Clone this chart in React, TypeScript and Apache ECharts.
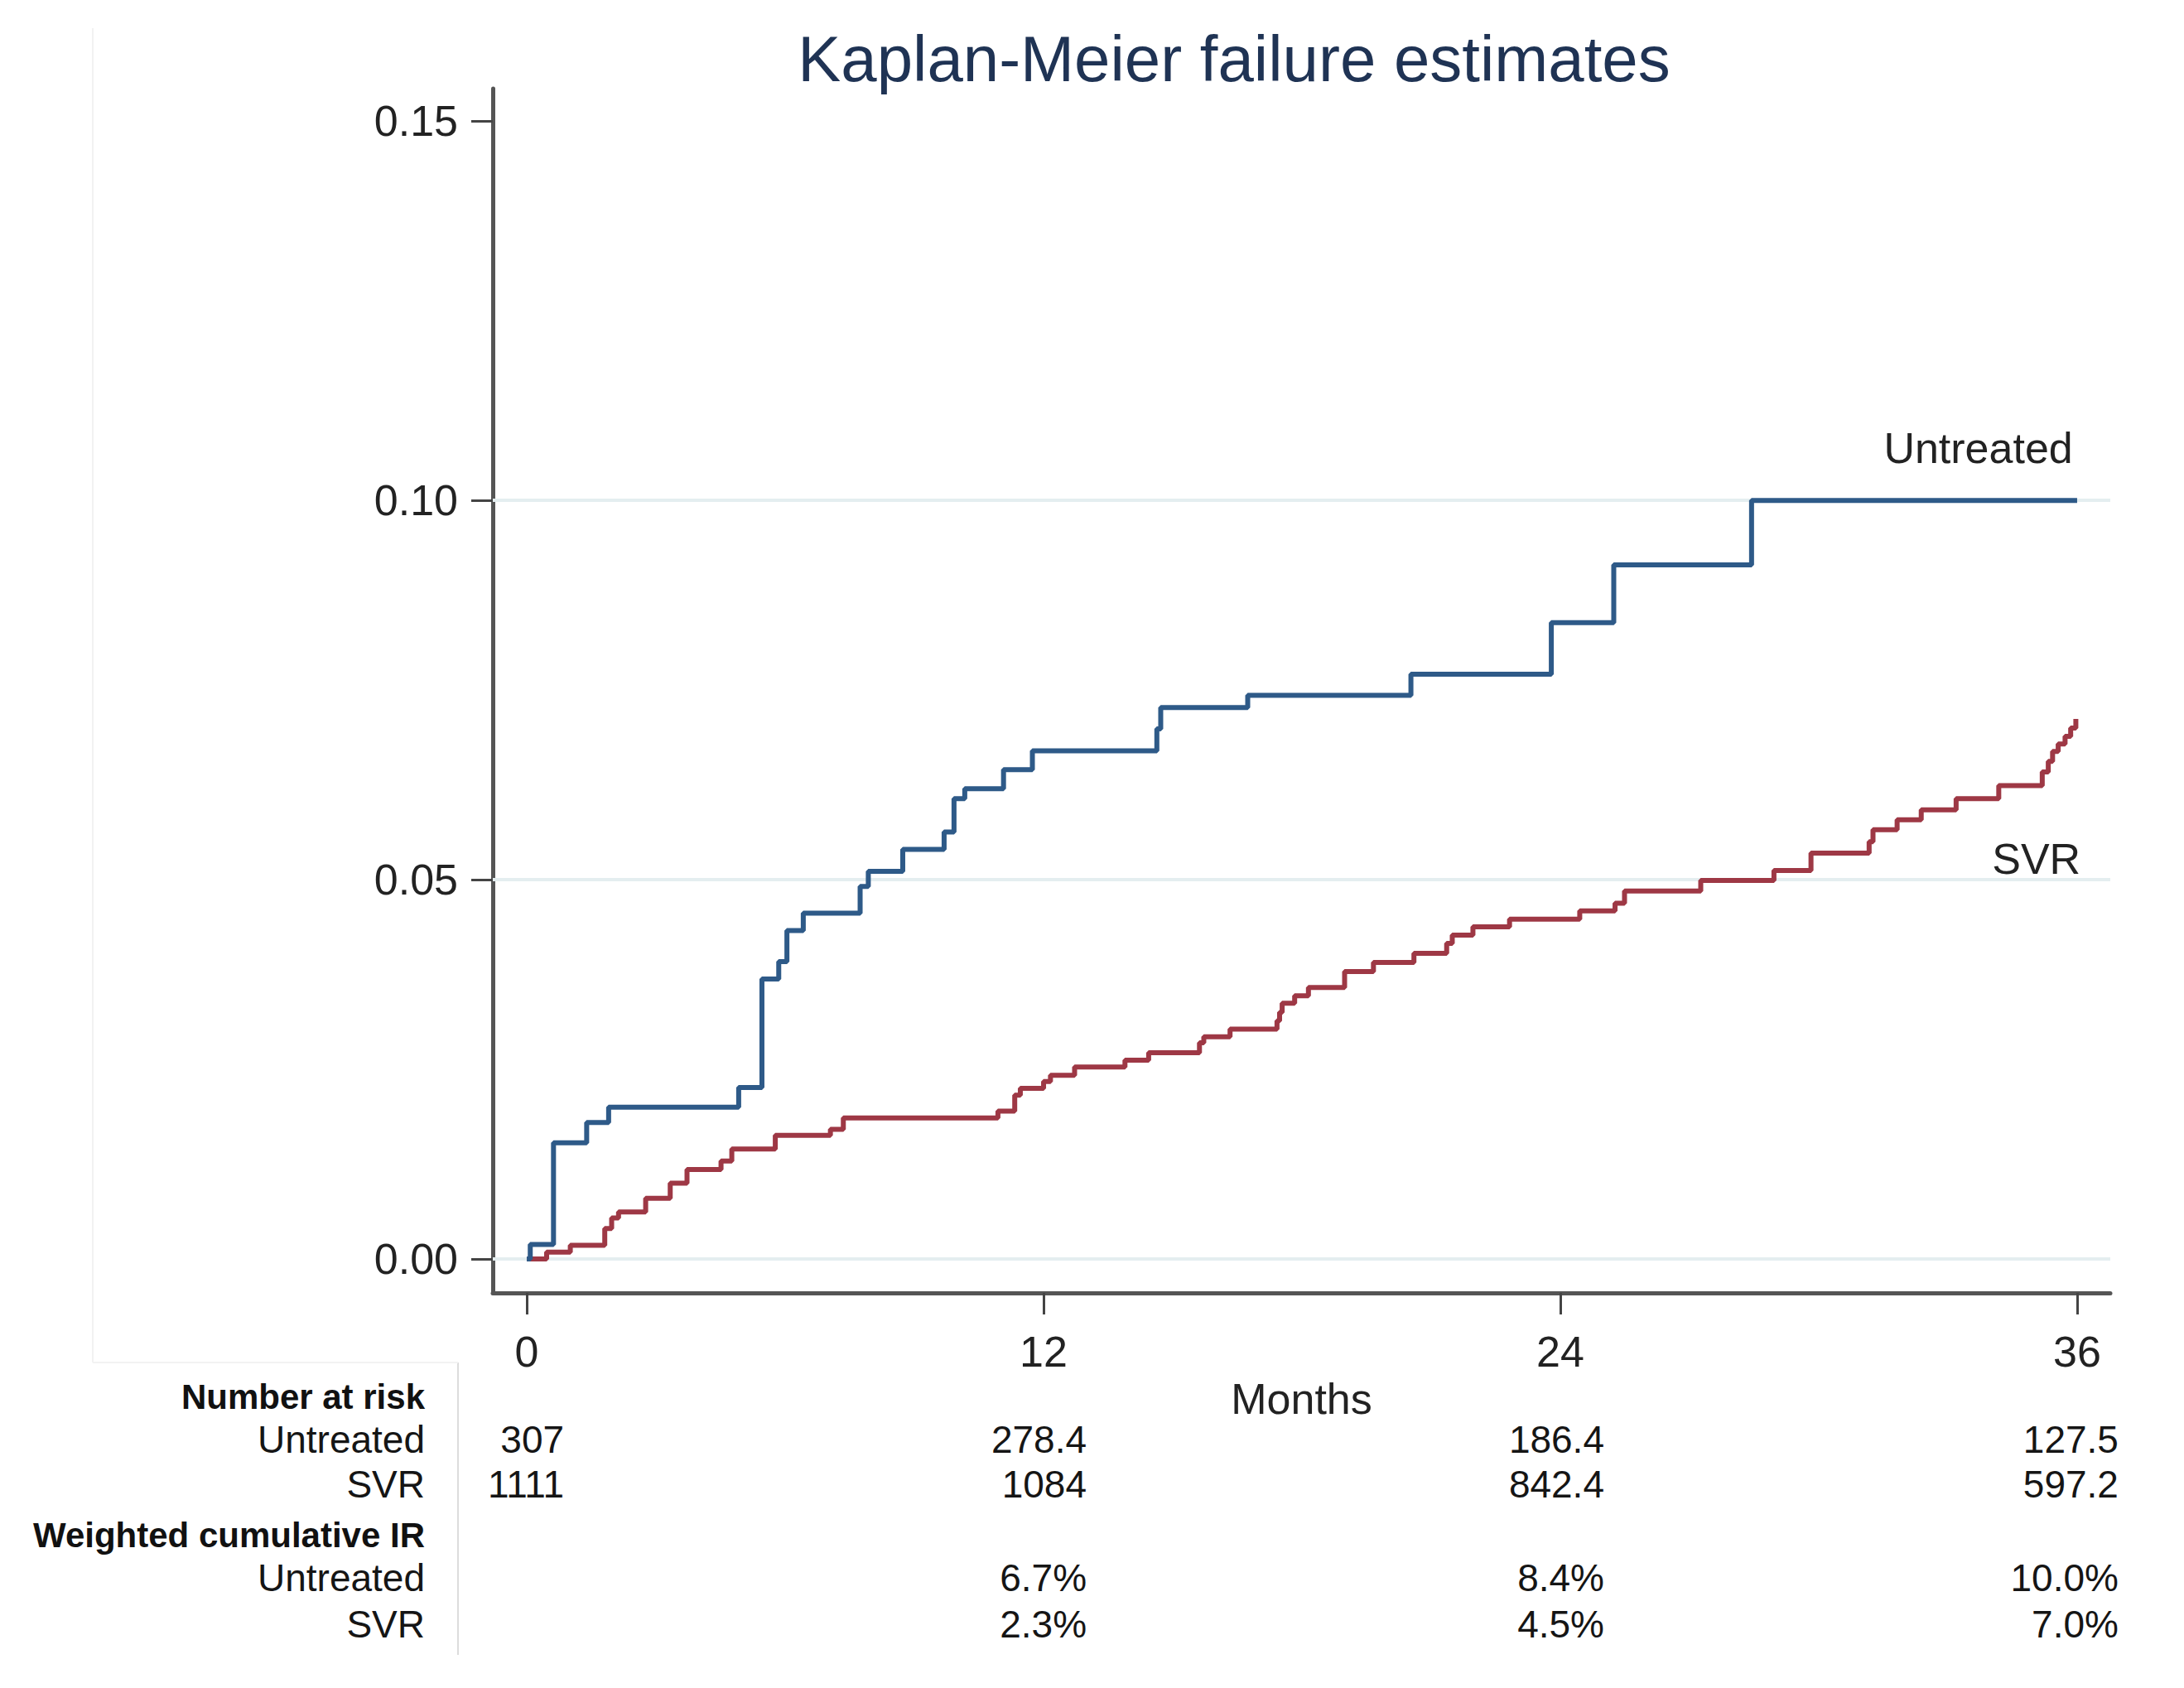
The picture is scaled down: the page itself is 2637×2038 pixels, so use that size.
import React, { useEffect, useRef } from "react";
import * as echarts from "echarts";

const W = 2637;
const H = 2038;
const FONT = "'Liberation Sans', Arial, Helvetica, sans-serif";

const titleText = "Kaplan-Meier failure estimates";
const xAxisName = "Months";
const xTicks = [0, 12, 24, 36];
const yTicks = [0, 0.05, 0.1, 0.15];
const gridValues = [0, 0.05, 0.1];

// Kaplan-Meier failure estimates (step points: time in months, cumulative failure)
const untreatedTimes = [0, 0.08, 0.62, 1.39, 1.9, 4.92, 5.46, 5.85, 6.04, 6.42, 7.74, 7.93, 8.73, 9.69, 9.92, 10.17, 11.07, 11.74, 14.63, 14.72, 16.74, 20.53, 23.79, 25.24, 28.44, 36];
const untreatedFail = [0, 0.0019, 0.0153, 0.018, 0.02, 0.0226, 0.0369, 0.0392, 0.0433, 0.0456, 0.0491, 0.0511, 0.054, 0.0563, 0.0607, 0.062, 0.0645, 0.067, 0.0699, 0.0727, 0.0743, 0.0771, 0.0839, 0.0915, 0.1, 0.1];

const svrTimes = [0, 0.46, 1.01, 1.81, 1.97, 2.13, 2.76, 3.33, 3.72, 4.51, 4.76, 5.77, 7.05, 7.35, 10.94, 11.33, 11.46, 12.0, 12.16, 12.72, 13.89, 14.44, 15.62, 15.72, 16.33, 17.42, 17.48, 17.54, 17.83, 18.15, 18.99, 19.66, 20.6, 21.36, 21.49, 21.97, 22.82, 24.45, 25.27, 25.49, 27.26, 28.96, 29.82, 31.17, 31.26, 31.82, 32.38, 33.19, 34.18, 35.19, 35.33, 35.43, 35.56, 35.72, 35.85, 35.97];
const svrFail = [0, 0.0009, 0.0018, 0.004, 0.0054, 0.0062, 0.008, 0.01, 0.0118, 0.0129, 0.0145, 0.0163, 0.0171, 0.0186, 0.0195, 0.0216, 0.0225, 0.0234, 0.0242, 0.0253, 0.0262, 0.0272, 0.0285, 0.0293, 0.0303, 0.0314, 0.0325, 0.0337, 0.0347, 0.0358, 0.0379, 0.0391, 0.0403, 0.0416, 0.0427, 0.0438, 0.0448, 0.0459, 0.0469, 0.0485, 0.0499, 0.0512, 0.0535, 0.055, 0.0566, 0.0579, 0.0592, 0.0607, 0.0624, 0.0642, 0.0656, 0.0669, 0.0679, 0.0689, 0.07, 0.0712];

// Risk table
const tableTimes = [0, 12, 24, 36];
const tableHeaderRisk = "Number at risk";
const tableHeaderIR = "Weighted cumulative IR";
const groupNames = ["Untreated", "SVR"];
const riskUntreated = ["307", "278.4", "186.4", "127.5"];
const riskSVR = ["1111", "1084", "842.4", "597.2"];
const irTimes = [12, 24, 36];
const irUntreated = ["6.7%", "8.4%", "10.0%"];
const irSVR = ["2.3%", "4.5%", "7.0%"];

// Styles
const BLUE = "#2e5a88";
const RED = "#9e3845";
const AXIS = "#555555";
const TEXT = "#222222";
const TITLE = "#1f3354";
const GRID = "#e4eef0";
const colOffsets = [45, 52, 53, 50];
const rowY = { riskHead: 1686, riskU: 1738, riskS: 1792, irHead: 1853, irU: 1905, irS: 1961 };
const labelRight = 513;

const zip = (a: number[], b: number[]) => a.map((t, i) => [t, b[i]]);

export default function App() {
  const ref = useRef<HTMLDivElement>(null);
  useEffect(() => {
    const chart = echarts.init(ref.current!, null, { renderer: "svg", width: W, height: H });
    chart.setOption({
      animation: false,
      backgroundColor: "#ffffff",
      grid: { left: 595, right: 89, top: 107, bottom: 477, containLabel: false },
      xAxis: {
        type: "value",
        min: -0.79,
        max: 36.77,
        name: xAxisName,
        nameLocation: "middle",
        nameGap: 82,
        nameTextStyle: { fontSize: 52, color: TEXT, fontFamily: FONT },
        axisLine: { show: true, onZero: false, lineStyle: { color: AXIS, width: 5 } },
        axisTick: { show: true, customValues: xTicks, length: 26, lineStyle: { color: "#444", width: 3 } },
        axisLabel: { show: true, customValues: xTicks, fontSize: 52, margin: 45, color: TEXT, fontFamily: FONT },
        splitLine: { show: false },
      },
      yAxis: {
        type: "value",
        min: -0.00448,
        max: 0.1543,
        axisLine: { show: true, onZero: false, lineStyle: { color: AXIS, width: 5 } },
        axisTick: { show: true, customValues: yTicks, length: 26, lineStyle: { color: "#444", width: 3 } },
        axisLabel: {
          show: true,
          customValues: yTicks,
          fontSize: 52,
          margin: 42,
          color: TEXT,
          fontFamily: FONT,
          formatter: (v: number) => v.toFixed(2),
        },
        splitLine: { show: false },
      },
      series: [
        {
          type: "line",
          name: "grid",
          data: [],
          z: 1,
          silent: true,
          markLine: {
            silent: true,
            z: 1,
            symbol: ["none", "none"],
            label: { show: false },
            lineStyle: { color: GRID, width: 4, type: "solid" },
            emphasis: { disabled: true },
            data: gridValues.map((v) => ({ yAxis: v })),
          },
        },
        {
          type: "line",
          name: "Untreated",
          step: "end",
          showSymbol: false,
          symbol: "none",
          z: 10,
          lineStyle: { color: BLUE, width: 6 },
          itemStyle: { color: BLUE },
          emphasis: { disabled: true },
          data: zip(untreatedTimes, untreatedFail),
        },
        {
          type: "line",
          name: "SVR",
          step: "end",
          showSymbol: false,
          symbol: "none",
          z: 9,
          lineStyle: { color: RED, width: 6 },
          itemStyle: { color: RED },
          emphasis: { disabled: true },
          data: zip(svrTimes, svrFail),
        },
      ],
    });

    const toPx = (t: number, v: number) => chart.convertToPixel({ gridIndex: 0 }, [t, v]) as number[];
    const txt = (text: string, x: number, y: number, opts: any = {}) => ({
      type: "text",
      x,
      y,
      silent: true,
      style: {
        text,
        fill: opts.fill || "#151515",
        fontSize: opts.fontSize || 46,
        fontWeight: opts.fontWeight || "normal",
        fontFamily: FONT,
        align: opts.align || "right",
        textAlign: opts.align || "right",
        verticalAlign: "middle",
        textVerticalAlign: "middle",
      },
    });

    const g: any[] = [];
    g.push(txt(titleText, 1490, 71, { fontSize: 78, fill: TITLE, align: "center" }));
    const uPos = toPx(35.9, 0.1069);
    const sPos = toPx(36.08, 0.0527);
    g.push(txt(groupNames[0], uPos[0], uPos[1], { fontSize: 52, fill: TEXT }));
    g.push(txt(groupNames[1], sPos[0], sPos[1], { fontSize: 52, fill: TEXT }));

    // table labels
    g.push(txt(tableHeaderRisk, labelRight, rowY.riskHead, { fontSize: 42, fontWeight: "bold", fill: "#111" }));
    g.push(txt(groupNames[0], labelRight, rowY.riskU));
    g.push(txt(groupNames[1], labelRight, rowY.riskS));
    g.push(txt(tableHeaderIR, labelRight, rowY.irHead, { fontSize: 42, fontWeight: "bold", fill: "#111" }));
    g.push(txt(groupNames[0], labelRight, rowY.irU));
    g.push(txt(groupNames[1], labelRight, rowY.irS));

    tableTimes.forEach((t, i) => {
      const x = toPx(t, 0)[0] + colOffsets[i];
      g.push(txt(riskUntreated[i], x, rowY.riskU));
      g.push(txt(riskSVR[i], x, rowY.riskS));
    });
    irTimes.forEach((t, i) => {
      const idx = tableTimes.indexOf(t);
      const x = toPx(t, 0)[0] + colOffsets[idx];
      g.push(txt(irUntreated[i], x, rowY.irU));
      g.push(txt(irSVR[i], x, rowY.irS));
    });

    // frame lines
    g.push({ type: "line", silent: true, shape: { x1: 553, y1: 1645, x2: 553, y2: 1998 }, style: { stroke: "#dcdcdc", lineWidth: 2 } });
    g.push({ type: "line", silent: true, shape: { x1: 112, y1: 34, x2: 112, y2: 1645 }, style: { stroke: "#f2f2f2", lineWidth: 2 } });
    g.push({ type: "line", silent: true, shape: { x1: 112, y1: 1645, x2: 553, y2: 1645 }, style: { stroke: "#f2f2f2", lineWidth: 2 } });

    chart.setOption({ graphic: g });
    return () => chart.dispose();
  }, []);
  return (
    <div
      ref={ref}
      style={{ position: "absolute", left: 0, top: 0, width: W, height: H, background: "#fff" }}
    />
  );
}
